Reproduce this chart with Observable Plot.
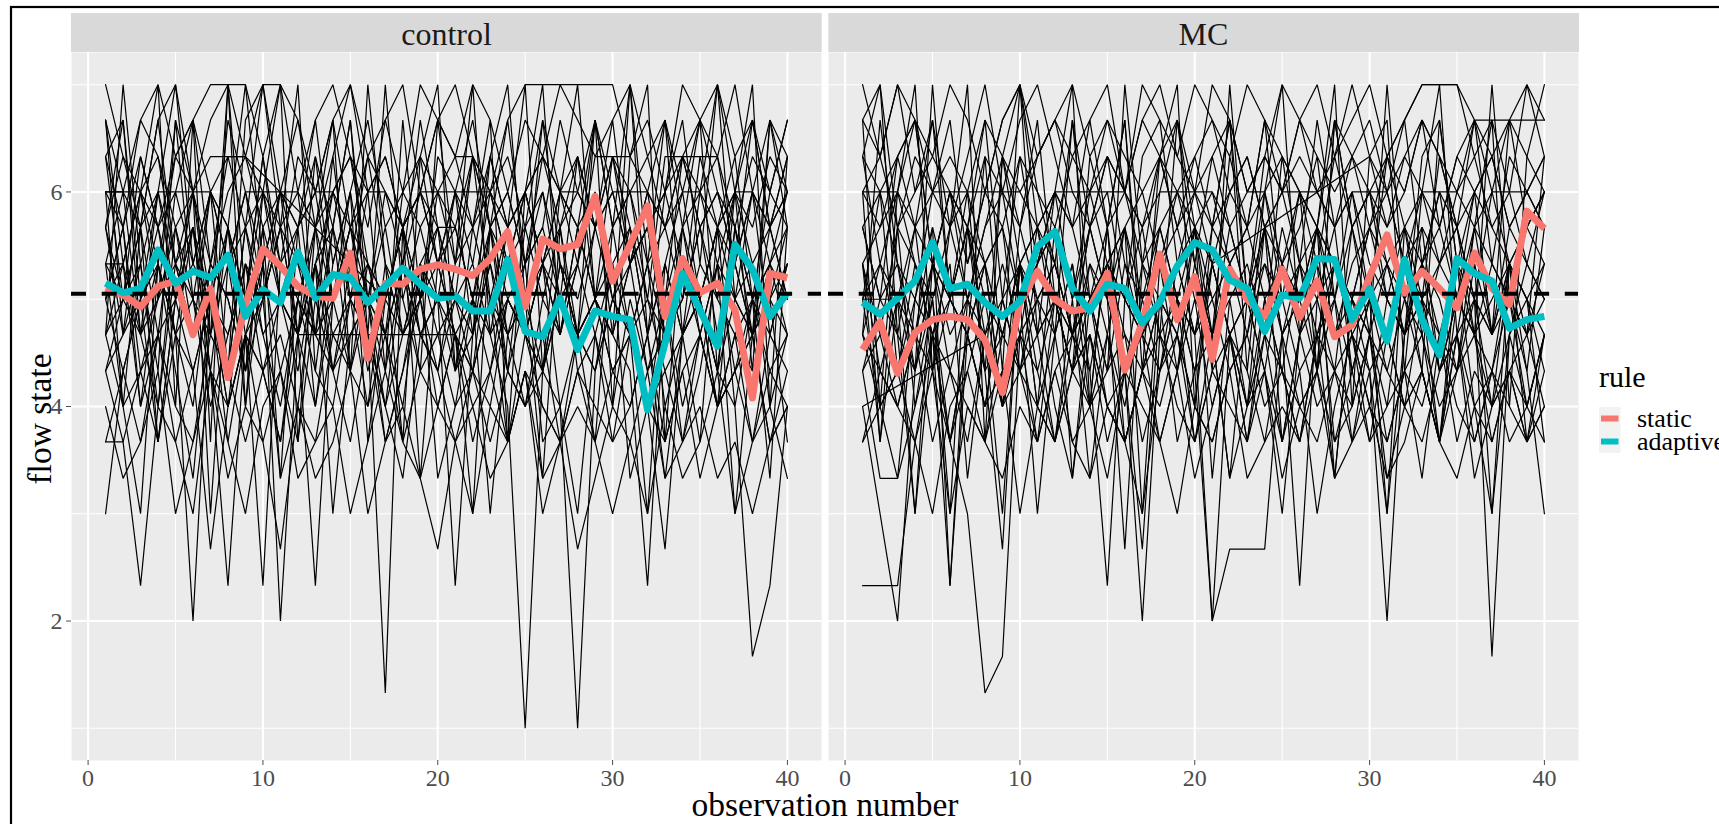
<!DOCTYPE html>
<html>
<head>
<meta charset="utf-8">
<script src="https://cdn.jsdelivr.net/npm/d3@7"></script>
<script src="https://cdn.jsdelivr.net/npm/@observablehq/plot@0.6"></script>
<style>
html, body { margin: 0; padding: 0; background: #fff; overflow: hidden; }
#wrap { position: relative; width: 1719px; height: 824px; }
#wrap svg { position: absolute; left: 0; top: 0; }
</style>
</head>
<body>
<div id="wrap"></div>
<script>
// ---------- data ----------
const conditions = ["control", "MC"];
const rules = ["static", "adaptive"];
const ruleColors = ["#F8766D", "#00BFC4"];
const observations = [1,2,3,4,5,6,7,8,9,10,11,12,13,14,15,16,17,18,19,20,21,22,23,24,25,26,27,28,29,30,31,32,33,34,35,36,37,38,39,40];
const flowGrandMean = 5.05;
const xTicks = [0, 10, 20, 30, 40];
const xMinorTicks = [5, 15, 25, 35];
const yTicks = [2, 4, 6];
const yMinorTicks = [1, 3, 5, 7];

// mean flow per rule (thick lines)
const staticControl = [5.10,5.04,4.93,5.12,5.17,4.67,5.10,4.27,4.95,5.47,5.31,5.12,5.03,5.01,5.43,4.45,5.15,5.14,5.28,5.32,5.28,5.22,5.38,5.63,4.93,5.56,5.47,5.51,5.96,5.17,5.51,5.87,4.84,5.38,5.06,5.15,4.90,4.08,5.24,5.20];
const adaptiveControl = [5.15,5.06,5.10,5.46,5.15,5.26,5.20,5.41,4.84,5.09,4.97,5.44,5.01,5.23,5.20,4.97,5.12,5.29,5.14,5.01,5.03,4.89,4.89,5.37,4.70,4.65,5.01,4.53,4.89,4.84,4.81,3.97,4.59,5.24,4.90,4.56,5.51,5.28,4.84,5.06];
const staticMC = [4.53,4.79,4.31,4.69,4.81,4.84,4.81,4.62,4.13,4.97,5.26,5.00,4.89,4.92,5.24,4.34,4.78,5.42,4.81,5.21,4.44,5.28,5.00,4.84,5.28,4.83,5.17,4.65,4.76,5.21,5.60,5.06,5.26,5.10,4.92,5.43,5.10,4.95,5.82,5.66];
const adaptiveMC = [4.97,4.86,5.01,5.17,5.53,5.10,5.14,4.97,4.84,4.98,5.49,5.63,5.10,4.89,5.14,5.10,4.78,4.97,5.31,5.53,5.46,5.18,5.10,4.70,5.04,5.01,5.38,5.37,4.81,5.10,4.61,5.37,4.81,4.48,5.38,5.24,5.17,4.73,4.81,4.84];

// individual participants, control condition (null = observation missing)
const controlParticipants = [
[7,6.33,5.67,6.67,7,6,6.67,7,7,6.33,7,6,6.67,7,6.33,5.67,6.67,7,6,6.67,7,6.33,6,6.67,7,7,7,7,7,7,6.33,6.67,6,7,6.67,6.33,7,6,6.67,6.33],
[6.67,5.33,6,5,6.67,6,5.33,6.33,5.67,7,6,5.67,6.33,5,6,6.67,5.67,6,6.33,5.33,6,6.67,5.67,6,5.33,6.33,6,5.67,6.67,6,5.33,6,6.67,5.67,6,6.33,5.33,6,5.67,6.33],
[6,6,6,5.33,6.33,6,5,6.67,6,5.33,6,6,5.67,6.33,5,6,6.33,5.67,5,6,6.33,6.33,5.67,6,5.33,5.67,6.67,6,5.67,6.33,6,5,6.33,6.33,6.33,6.33,5.67,5,6,5.67],
[5.67,6.67,5,6,5.33,4.67,6,5.67,5,6.33,5,5.67,6.67,5.33,6,5,4.67,6,5.67,5,6,5.33,6.33,5.67,4.67,5.33,6,5.67,5,6.33,5.67,4.67,5.33,6,5,5.67,6.33,5,5.33,6],
[5.33,5,5.67,4.67,6,5.33,5,4.33,5.67,6,5,4.67,5.33,6,5.67,5,4.67,5.33,6,5.67,5.67,5,4.33,5.33,6,5.33,4.67,5.67,6,5,5.33,5.67,4.67,5,5.67,6,5.33,4.67,5.67,5],
[5,4.33,5,5.67,4.67,4,5.33,5,4.33,5,5.67,4.67,4,5,5.33,4.33,5,5.67,4.67,4.33,5,4.67,5.33,4.33,4,5,5.67,4.67,5,4.33,4.67,5.33,4,4.67,5,4.33,5,5.33,4,4.67],
[4.67,5.33,4,4.67,5,5.67,4.33,4,5.33,4.67,4,5,4.67,4.33,5.33,5,4,4.67,5.33,4.67,4,4.33,5,4.67,4,4.33,5,5.33,4.67,4,5,4.33,4.67,5.33,4.67,4,4.67,5,4.33,4.67],
[4.33,3.67,2.33,4,3.67,3,4.33,3.33,4,3.67,2.67,4,3.33,3.67,4.33,3,3.67,4,3.33,2.67,3.67,4,3.33,3.67,4.33,3,3.67,2.67,3.33,4,3.67,3,4,3.33,3.67,4.33,3,3.67,4,3.33],
[3,4.33,5,3.67,4.67,5,4,4.67,5.33,4.33,3.67,5,4.33,4,5,4.67,3.67,4.33,5,4,4.67,3.67,4.33,5,4.67,4,3.67,4.67,5,4.33,4,4.67,3.33,4.67,5,4,4.33,4.67,3.67,4],
[3.67,3.67,4.33,3.67,5,4.33,2.67,4,4.67,3.67,4.33,3.67,5,4.33,3.67,4.67,4,3.33,4.67,4.33,3.67,4.33,5,3.67,4.33,4,3.67,4.33,4.67,3.67,4,4.67,3.67,4.33,3.33,4,4.67,3.67,4.33,4],
[6.67,4.67,6,7,4,6.67,3.67,7,5,6,7,3.67,5.67,6.67,4.33,7,5.33,3.67,6.33,7,4.33,5.67,6.67,3.67,6,7,4.67,5.33,6.67,4,6.33,7,3.67,5.67,6.67,4.33,6,7,4,6.33],
[6.33,6.67,4.67,6,7,5.33,6,4.33,6.67,7,5.67,6,4.67,6.33,7,6,4.33,6.67,5,6.33,6,4.67,6.33,7,5,6.67,5.33,4.67,6.67,5.67,7,4.67,6,6.67,5.33,7,6,4.33,6.67,6],
[5,5.67,4,5.33,4.67,2,5,4.33,5.67,4.67,5,4.33,5.33,4.67,5,4,5.33,4.67,5,5.67,4.33,5,4.67,4,1,4.33,5.33,4.67,5,4.67,5.33,4.33,5,4,4.67,5.33,4.33,5,4.67,5.33],
[4.67,5,5.33,4,5.67,5,4.33,5.67,4,5.33,2,4.67,5.67,5,4.33,5.33,4.67,4,5.33,5,4.67,4.33,5.67,5,4.67,5.33,4,1,4.33,5,5.67,4.67,5.33,4.67,5,4,5.67,4.67,5,5.67],
[5.67,4.67,5.33,6,5,5.67,4.67,5.33,6,5,5.67,4.67,2.33,5,5.67,4.67,1.33,5.67,5,4.33,5.33,5.67,5,4.33,5.67,5,4.67,5.33,6,4.67,5.33,5.67,4.67,5,5.67,4.67,5.33,6,4.67,5.33],
[5.33,6,4.67,5.33,4.67,5.67,4.33,2.33,4.67,2.33,5.33,5,4.67,5.67,5,5.33,4.67,5.33,4.67,5,2.33,4.67,5.67,5.33,4.67,5.33,5,4.67,5.67,5,4.67,5.33,4.67,5.67,5,4.33,5.67,5,5.33,4.67],
[4.33,5,4.67,4,5.33,4.67,5,4,4.67,5.33,4.33,5,5.67,4.33,5,4.67,4,5.33,4.33,4.67,5,4.33,4,5,4.67,4.33,5,4.67,4.33,5,4.67,4,2.67,4.67,5,4.33,4,1.67,2.33,4],
[6,5.67,6.33,5.67,6,6.67,5.33,6,6.33,5.67,6,6.67,5.67,6,5.33,6.33,6,5.67,6.33,6,5.67,6.33,6,5.33,6,6.33,5.67,6,6.67,5.67,6,6.33,5.67,6.33,6,5.67,6,6.67,5.67,6],
[5.33,5.33,6,6.33,5.33,5,6,5.33,5.67,5,6,5.33,5,6,6.33,5.33,5,5.67,6,5.33,5.67,5,6,5.33,5.67,6,5.33,5,5.67,6.33,5.33,5.67,6,5.33,5,5.67,6,5.33,5.67,5],
[4,3.33,3.67,4.33,3,3.67,4.33,3.67,3,4,4.33,3.33,3.67,4,3,3.67,4.33,3.67,3.33,4,3.67,3,4,3.67,4.33,3.33,3.67,4,3.67,3,3.67,4.33,3.33,3.67,4,3.33,3.67,3,3.67,4],
[4.67,7,5.33,4.33,6.67,5,4.67,7,4,6,5.67,7,4.33,5.67,6.67,4.67,7,5,4.33,6.67,5.33,7,4.67,5.67,7,4.33,6,7,5,4.67,7,5.33,6.67,4.67,6,7,5,4.67,6.67,5.67],
[6.33,5.67,6.67,6.33,5.67,6,6.33,6.33,6.33,6,5.33,6.33,6,6.67,5.67,6,6.33,5.67,6,6.67,6.33,5.67,6,6.33,5.67,6.67,6,5.33,6.33,6.33,6.33,6,5.67,6.33,6.67,6,5.67,6.33,6,6.67],
[5,5.33,4.67,5,5.33,5.67,5,4.67,5.33,5,5.67,5.33,4.67,5,5.67,5.33,5,4.67,5.33,5.67,5,5.33,4.67,5,5.33,5.67,5,4.67,5,5.33,5.67,5,4.67,5.33,5,5.67,5.33,4.67,5,5.33],
[6,4,3,5.33,4.33,3.33,5,3.67,4.67,5,3.33,4,5.33,3,4.67,5,3.67,4.33,5.33,3.33,4,5,3,4.67,5.33,3.67,4,3,4.67,5.33,3.33,4,5,3.67,4.33,5.33,3,4.67,5,3.67],
[5.67,6.33,6,5.67,6.33,6.67,6,6.33,6.33,null,null,null,null,null,null,null,5,5.67,6,5.33,6,5.67,6.33,5.67,6,5.33,6,6.33,5.67,6,5.33,5.67,6,6.33,5.67,5,6,5.67,6.33,6],
[4.33,4.67,5,5.33,4.67,4.33,5,5.67,4.67,4.33,5,4.67,5.33,4.33,4.67,5,4.33,5.33,4.67,5,4.33,4.67,5.33,4.67,5,4.33,5.33,4.67,4.33,5.33,4.67,5,4.33,4.67,5.33,5,4.67,4.33,5,4.67],
[6.67,6,6.67,7,6.33,6.67,7,7,6.33,7,7,6.67,6,6.67,7,6.33,6.67,6,7,6.67,6.33,7,6.67,6,6.67,6.33,7,6.67,6.33,6.67,7,6.33,6.67,6,6.67,7,6.33,6.67,6,6.67],
[3.67,4.33,3.67,4.67,4,3.67,4.67,4.33,3.67,4.33,4.67,4,3.67,4.67,4.33,4,4.67,3.67,4.33,4,4.67,4.33,3.67,4.33,4,4.67,3.67,4.33,4,3.67,4.67,4,4.33,3.67,4.67,4,4.33,3.67,4.67,4.33],
[5.33,4,5.67,3.67,5,6,3,5.33,4.33,5.67,3.33,5.67,4,5.33,6,3.67,5,5.67,3.33,5.33,4.67,3,5.67,4.33,5,3.33,5.67,4.33,3.67,5.67,4.67,3,5.33,4.67,3.67,5.67,4,5,3.33,5.67],
[6.33,5,5.67,6.67,5.33,6,4.67,5.67,7,5.33,6,4.67,6.33,5.67,6.67,5,6,5.33,6.67,5.67,5,6.33,5.67,6.67,5.33,6,5,6.33,5.67,6.67,5.33,6,5,6.33,5.67,6,5.33,6.67,5.67,6.33],
[6,6,5.67,6,6,6,6,5.33,6,6,6,5.67,6,6,6.33,6,6,5.67,6,6,6,6,6,5.67,6,6.33,6,6,5.67,6,6,6,5.67,6,6,5.33,6,6,5.67,6],
[4.67,4,4.33,4.67,3.67,4.33,5,4,4.67,4.33,3.67,4.67,null,null,null,null,null,null,null,null,4.67,4,4.33,3.67,4.67,4.33,4,4.67,3.67,4.33,4.67,4,3.67,4.33,4.67,4,4.33,4.67,3.67,4.33],
[5.67,5,6.33,5.67,5,5.33,6,5.67,5,6.33,5.33,5.67,6,5,5.67,6.33,5.33,5,5.67,6,5.33,6.33,5,5.67,6,5.33,5.67,6.33,5,5.67,6,5.33,5.67,5,6.33,5.67,5,6,5.33,5.67],
[5,5.67,4.33,5,5.67,4.67,5.33,5,4.33,5.67,5,4.67,5.33,5.67,4.33,5,5.67,4.67,5,5.33,4.67,5,5.67,4.67,5,5.33,4.67,5.67,5,4.67,4.33,2.33,5,5.67,4.67,5.33,5,4.67,5.33,5]
];

// individual participants, MC condition
const mcParticipants = [
[7,6.33,7,6,6.67,5.67,6.33,7,6,6.67,7,6.33,5.67,6.67,7,6,6.67,7,6.33,6,7,6.67,6,6.33,7,6.67,6,6.33,7,6.33,6,6.67,7,7,7,6.33,6.67,6,7,6.67],
[6.67,7,5.67,6.33,6,6.67,5.33,6,6.67,7,6,5.67,6.33,6.67,5.67,6,6.67,6.33,5.67,6.33,6.67,6,5.67,6.67,6.33,6,5.67,6.67,6.33,5.67,6.33,6,6.67,5.67,6.33,6.67,6,6.67,6.67,6.67],
[6,5.67,6.33,6.67,5.33,6,6,6,5.67,6.33,5.33,6,5.67,6,6,6,5.33,6.33,5.67,6,5.33,6,6.33,5.67,6,6,5.33,6.33,5.67,6,6.33,5.67,6,5.33,6,6.33,5.67,6,5.33,6],
[5.67,6,5.33,5,6,5.67,5,5.67,6,5,5.33,5.67,5,6,5.33,5.67,5,5.33,6,5.67,5,5.33,5.67,6,5,5.33,5.67,5,6,5.33,5,5.67,5.33,6,5,5.67,5.33,5,5.67,6],
[5.33,4.67,5.67,5.33,4.67,5,5.67,5.33,4.67,5.33,5.67,5,4.67,5.33,5,5.67,4.67,5,5.33,5.67,4.67,5,5.33,4.67,5.67,5,5.33,4.67,5,5.67,5.33,4.67,5,5.33,5.67,4.67,5,5.33,5,4.67],
[5,5,5,4.33,5.33,5,4.67,4,5,5.33,4.67,5,4.33,5,5.33,4.67,4.33,5,5.33,4.67,5,4.33,4.67,5.33,5,4.33,4.67,5.33,4.67,5,4.33,5,5.33,4.67,4.33,5,4.67,5.33,5,4.33],
[4.67,4,4.33,5,4.67,3.67,4.33,5,4,4.67,4.33,3.67,4.67,5,4,4.33,4.67,3.67,4.33,5,4,4.67,4.33,3.67,4.67,4,4.33,5,3.67,4.33,4.67,4,4.33,3.67,4.67,5,4,4.33,4.67,4],
[4.33,3.33,3.33,4,4.67,3.67,3,1.33,1.67,4.67,5,4,3.33,4.67,4,3.67,4.33,5,3.67,4.33,4.67,3.33,4,4.67,3.67,4.33,3,4,4.67,3.67,4,4.33,3.33,4.67,4,3.67,4.33,4,3.67,4.33],
[2.33,2.33,2.33,3.67,4.33,3,4,3.67,4.33,3,4,4.67,3.67,4,3.33,4.33,4,3.67,4.33,3.33,4,4.67,3.67,4.33,3.33,4,4.33,3.67,4,4.67,3.33,4,4.33,3.67,4.67,3.33,4,4.33,3.67,4],
[4,3,2,4.33,5,3.67,4.67,4,5,4.33,3.67,5,4.33,4.67,3.67,4.33,2,4.67,5,4.33,2,4.67,4,5,4.33,3.67,4.67,5,4.33,3.67,4.67,4,5,4.33,4.67,3.67,4.33,5,4,4.67],
[6.67,4,6,7,4.33,5.67,7,3.67,6.33,7,4.67,6,7,4,5.67,6.67,4.33,6.33,7,4,5.67,6.67,4.33,6,7,4.67,5.67,7,4,6.33,6.67,4.33,6,7,4.67,5.67,6.67,4,6.33,7],
[6.33,7,4.67,5.67,6.67,5,6,4.33,6.33,5.67,6.67,5,4.33,6.33,5.67,6.67,4.67,6,6.67,5.33,4.67,6.33,5.67,6.67,5,6,4.33,6.67,5.67,6,5,4.67,6.33,6.67,5.33,6,4.67,6.67,5.67,5.33],
[5,6,4.33,5.33,4.67,2.33,5,5.33,4,5.67,5,4.67,5.33,4.33,2.33,5,5.67,4.67,4.33,5.33,4.67,5.67,5,4.33,5.33,4.67,5,5.67,4.33,5,5.33,4.67,5.67,4.33,5,4.67,5.33,5,4.67,5.33],
[4.67,5.33,4.67,3,5.33,4.33,5,4.67,4,5.33,4.67,5,4.33,5.33,4.67,4,5,4.33,5.33,4.67,2,2.67,2.67,2.67,4.67,5,4.33,5.33,4.67,4,5,4.67,5.33,4.33,5,4.67,4,5.33,4.67,5],
[5.67,5,5.33,4.67,5.67,5,4.67,5.33,5.67,4.33,5,5.33,4.67,5.67,5,2.67,5.33,5,4.67,5.67,5.33,4.67,5,5.67,4.67,5.33,5,4.33,5.67,5,4.67,5.33,5,4.67,5.33,5,1.67,4.67,5.33,5],
[5.33,4.33,5,5.67,4.33,5,5.67,4.67,5,4.33,5.33,5.67,4.67,5,4.33,5.33,4.67,5.67,5,4.33,5.33,4.67,5,5.67,4.67,2.33,5,5.33,4.67,4.33,2,4.67,5.33,5,4.33,5.67,4.67,5,4.33,3],
[4.33,4.67,4,3.67,4.67,4.33,3.67,4.67,4,4.33,4.67,3.67,4.33,4,4.67,3.67,4.33,4.67,4,3.67,4.33,4.67,4,4.33,3.67,4.67,4,4.33,3.67,4.67,4.33,4,3.67,4.33,4.67,4,4.33,3.67,4,4.67],
[6,6.33,5.67,6,6.33,6,5.67,6.33,6,5.67,6.33,6.67,6,5.67,6.33,6,5.67,6.33,6,6.33,5.67,6,6.33,5.67,6,6.33,6,5.67,6.33,6,5.67,6.33,6,5.67,6.33,6,6.33,5.67,6,6.33],
[5.33,5.67,6,5.33,5,5.67,6,5.33,5.67,5,5.33,6,5.67,5,5.33,5.67,6,5.33,5,5.67,6,5.33,5.67,5,5.33,6,5.67,5.33,5,5.67,6,5.33,5.67,5.33,5,6,5.67,5.33,5.67,6],
[3.67,4,4.33,3.67,3,4,4.33,3.67,3.33,4,3.67,4.33,3.67,3.33,4,3.67,4.33,3.67,3,4,3.67,4.33,3.33,3.67,4,3.67,4.33,3.33,3.67,4,3.33,3.67,4.33,3.67,3.33,4,3.67,4.33,3.67,4],
[4.67,6.67,5.33,4.33,7,5,4.67,6.33,4.33,7,5.67,4.67,6.67,5,4.33,7,5.33,4.67,6.67,5.67,4.33,7,5,4.67,6.33,5.33,4.33,6.67,5.67,4.67,7,5,4.33,6.67,5.33,4.67,7,5,4.67,6.33],
[6.33,6,6.33,6.67,6,6.33,6,6.67,6.33,6,6.33,6.67,6.33,6,6.67,6.33,6,6.33,6.67,6,6.33,6.67,6,6.33,6,6.67,6.33,6,6.33,6.67,6,6.33,6.67,6.33,6,6.67,6.67,6.67,6.33,6],
[5,5.33,5,4.67,5.33,5,5.67,5,4.67,5.33,5,5.33,4.67,5,5.33,5,4.67,5.33,5.67,5,4.67,5.33,5,5.33,4.67,5,5.67,5.33,5,4.67,5.33,5,4.67,5.33,5.67,5,4.67,5.33,5,5.33],
[6,3.67,5,3,4.67,5.33,3.33,4.67,3,5.33,4,3.67,5,3.33,4.67,5.67,3,4.33,5,3.67,4.67,3.33,5,4.33,3,4.67,5.33,3.67,4.33,5,3,4.67,5,3.67,4.33,5.33,3,4.67,5,3.67],
[4,null,null,null,null,null,null,4.67,5.33,4.67,5.67,5.33,4.67,5.67,5,4.33,5.33,5.67,5,4.67,5.67,5.33,4.67,5.67,5.33,5,5.67,4.67,5.33,5.67,5,4.67,5.33,5.67,5,5.33,4.67,5.67,5.33,5],
[4.33,5,4.67,4.33,5.33,4.67,5,4.33,4.67,5.33,4.33,5,4.67,4.33,5.33,5,4.67,4.33,5,4.67,5.33,null,null,null,null,null,null,null,null,6.33,5.67,6,6.67,6.33,5.67,6,6.33,5.67,6,6.33],
[6.67,6.33,7,6.67,6.33,7,6.67,6,6.67,7,6.33,6.67,7,6.33,6.67,6,7,6.67,6.33,7,6.67,6.33,7,6.67,6,6.67,7,6.33,6.67,7,6.33,6.67,7,7,7,6.67,6.33,6.67,7,6.33],
[3.67,4.33,4,4.67,3.67,4.33,4,3.67,4.67,4.33,4,3.67,4.33,4.67,4,3.67,4.33,4,4.67,3.67,4.33,4,3.67,4.67,4.33,4,3.67,4.33,4.67,4,3.67,4.33,4,4.67,3.67,4.33,4,4.67,4,3.67],
[5.33,3.67,5.67,4,5,3,5.67,4.33,2.67,5.33,4,5.67,3.33,5,5.67,3.67,3,5.33,4.33,5.67,3.33,5,4,5.67,3.67,4.67,5.67,3.33,5,4.33,3,5.67,4.67,3.67,5.33,4,3,5.33,4.33,5.67],
[6.33,5.33,6,6.67,5.33,6,5.67,6.67,5,6.33,6,5.33,6.67,5.67,6,5,6.33,6.67,5.33,6,5.67,6.67,5,6.33,6,5.33,6.67,5.67,6,5,6.33,6.67,5.33,6,5.67,6.67,5.33,6.33,6,5.67],
[6,6,6,5.67,6,6,5.33,6,6,6,5.67,6,6,6,6.33,6,5.67,6,6,6,6,5.67,6,6,6.33,6,6,5.67,6,6,6,5.33,6,6,6,5.67,6,6,6,5.67],
[4.67,4.33,4,4.67,4.33,3.67,4.67,4,4.33,4.67,3.67,4.33,4.67,4,4.33,4.67,3.67,4.33,4.67,4,3.67,4.33,4.67,4,4.33,3.67,4.67,4.33,4,4.67,3.67,4.33,4.67,4,4.33,4.67,3.67,4.33,4,4.67],
[5.67,5,6.33,5.67,5.33,6,5,5.67,6.33,5.33,5.67,6,5,5.67,6.33,5.33,5,5.67,6,5.33,6.33,5.67,5,6,5.33,5.67,6.33,5,5.67,6,5.33,5.67,5,6.33,5.67,5,6,5.33,5.67,6],
[5,4,3.33,5,5.67,2.33,4.67,5.33,4,5,3,4.67,5.33,4,5.67,4.33,2.67,5,4.67,4,5.33,4.67,3.67,5,4.33,5.33,4.67,3.33,5,4.67,4,5.33,4.33,3.67,5,4.67,4.33,5.33,3.67,4.67]
];

// ---------- tidy tables built from the arrays ----------
const individual = [];
[[conditions[0], controlParticipants], [conditions[1], mcParticipants]].forEach(([cond, parts]) => {
  parts.forEach((vals, p) => vals.forEach((v, i) => {
    if (v != null) individual.push({cond, id: cond + "-" + p, obs: observations[i], flow: v});
  }));
});
const meanRows = [];
[[conditions[0], rules[0], staticControl], [conditions[0], rules[1], adaptiveControl],
 [conditions[1], rules[0], staticMC], [conditions[1], rules[1], adaptiveMC]].forEach(([cond, rule, vals]) => {
  vals.forEach((v, i) => meanRows.push({cond, rule, obs: observations[i], flow: v}));
});

// ---------- chart ----------
const W = 1719, H = 824;
const serif = "'Liberation Serif', 'Times New Roman', Times, serif";

const chart = Plot.plot({
  width: W, height: H,
  marginLeft: 71, marginRight: 140, marginTop: 52, marginBottom: 64,
  style: {background: "transparent", fontFamily: serif, overflow: "visible"},
  fx: {domain: conditions, paddingInner: 0.0088, paddingOuter: 0, label: null},
  x: {domain: [-0.95, 41.95], label: null},
  y: {domain: [0.7, 7.3], label: null},
  color: {domain: rules, range: ruleColors},
  marks: [
    Plot.frame({fill: "#EBEBEB", stroke: "none"}),
    Plot.gridY({ticks: yMinorTicks, stroke: "#fff", strokeOpacity: 1, strokeWidth: 1.1}),
    Plot.gridX({ticks: xMinorTicks, stroke: "#fff", strokeOpacity: 1, strokeWidth: 1.1}),
    Plot.gridY({ticks: yTicks, stroke: "#fff", strokeOpacity: 1, strokeWidth: 2.1}),
    Plot.gridX({ticks: xTicks, stroke: "#fff", strokeOpacity: 1, strokeWidth: 2.1}),
    Plot.line(individual, {fx: "cond", x: "obs", y: "flow", z: "id", stroke: "#000", strokeWidth: 1.2, strokeLinejoin: "miter"}),
    Plot.line(meanRows, {fx: "cond", x: "obs", y: "flow", z: "rule", stroke: "rule", strokeWidth: 7, strokeLinejoin: "round", strokeLinecap: "butt"}),
    Plot.ruleY([flowGrandMean], {stroke: "#000", strokeWidth: 4, strokeDasharray: "15,15.7"}),
    Plot.axisX({ticks: xTicks, tickFormat: d => String(d), tickSize: 5, tickPadding: 3, fontSize: 24, color: "#4D4D4D", label: null}),
    Plot.axisY({ticks: yTicks, tickFormat: d => String(d), tickSize: 5, tickPadding: 4, fontSize: 24, color: "#4D4D4D", label: null}),
    Plot.axisFx({anchor: "top", tickSize: 0, tickPadding: 8, fontSize: 32, color: "#1A1A1A", label: null})
  ]
});

// ---------- background layer (behind the transparent plot): strips, titles, legend ----------
const wrap = d3.select("#wrap");
const bg = wrap.append("svg").attr("width", W).attr("height", H)
  .style("font-family", serif);

const fx = chart.scale("fx");
const step = (fx.range[1] - fx.range[0]) / (conditions.length - fx.paddingInner + 2 * fx.paddingOuter);
const bw = step * (1 - fx.paddingInner);
const stripX = c => fx.range[0] + step * fx.paddingOuter + conditions.indexOf(c) * step;
conditions.forEach(c => {
  bg.append("rect").attr("x", stripX(c)).attr("y", 13).attr("width", bw).attr("height", 39).attr("fill", "#D9D9D9");
});

// outer black border of the figure
bg.append("rect").attr("x", 11).attr("y", 7).attr("width", 2000).attr("height", 2000)
  .attr("fill", "none").attr("stroke", "#000").attr("stroke-width", 2.2);

// axis titles
const panelsMid = (fx.range[0] + fx.range[1]) / 2;
bg.append("text").attr("x", panelsMid).attr("y", 815.5).attr("text-anchor", "middle")
  .attr("font-size", 33.5).attr("fill", "#000").text("observation number");
bg.append("text").attr("transform", "translate(51,419) rotate(-90)").attr("text-anchor", "middle")
  .attr("font-size", 33.5).attr("fill", "#000").text("flow state");

// legend
const lg = bg.append("g");
lg.append("text").attr("x", 1599).attr("y", 387).attr("font-size", 30).attr("fill", "#000").text("rule");
rules.forEach((r, i) => {
  const y0 = 407 + i * 23;
  lg.append("rect").attr("x", 1599).attr("y", y0).attr("width", 21.5).attr("height", 23).attr("fill", "#F2F2F2");
  lg.append("rect").attr("x", 1601).attr("y", y0 + 8.5).attr("width", 17.5).attr("height", 6).attr("fill", ruleColors[i]);
  lg.append("text").attr("x", 1637).attr("y", y0 + 20).attr("font-size", 26).attr("fill", "#000").text(r);
});

wrap.node().appendChild(chart);
</script>
</body>
</html>
